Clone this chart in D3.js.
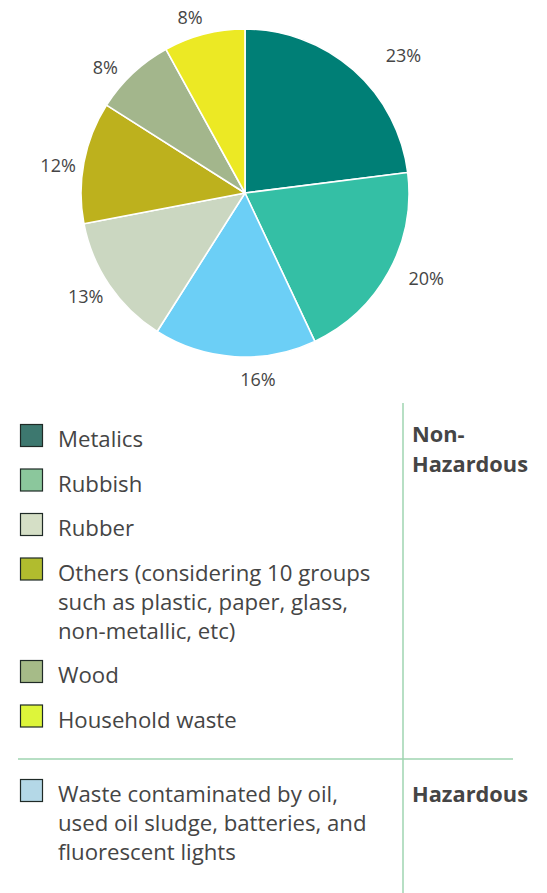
<!DOCTYPE html>
<html>
<head>
<meta charset="utf-8">
<script src="https://cdn.jsdelivr.net/npm/d3@7"></script>
<style>
  html, body { margin: 0; padding: 0; background: #ffffff; }
  svg { display: block; }
</style>
</head>
<body>
<script>
// Waste composition (percent of total), clockwise from 12 o'clock
const sliceNames = ["Metalics", "Rubbish", "Hazardous waste", "Rubber", "Others", "Wood", "Household waste"];
const sliceValues = [23, 20, 16, 13, 12, 8, 8];
const sliceColors = ["#007f76", "#34bfa5", "#6ccff6", "#cbd7c1", "#bdb11d", "#a3b68c", "#ece924"];

// Legend entries, grouped
const nonHazardousItems = ["Metalics", "Rubbish", "Rubber", "Others", "Wood", "Household waste"];
const hazardousItems = ["Hazardous waste"];
const legendText = {
  "Metalics": ["Metalics"],
  "Rubbish": ["Rubbish"],
  "Rubber": ["Rubber"],
  "Others": ["Others (considering 10 groups", "such as plastic, paper, glass,", "non-metallic, etc)"],
  "Wood": ["Wood"],
  "Household waste": ["Household waste"],
  "Hazardous waste": ["Waste contaminated by oil,", "used oil sludge, batteries, and", "fluorescent lights"]
};
const legendColors = {
  "Metalics": "#3d786f",
  "Rubbish": "#8bc79c",
  "Rubber": "#d5dfc6",
  "Others": "#b1bc2e",
  "Wood": "#a6bb88",
  "Household waste": "#ddf53a",
  "Hazardous waste": "#b4d8e7"
};
const groupTitles = { nonHazardous: ["Non-", "Hazardous"], hazardous: ["Hazardous"] };

// Small angular/radial shifts for the outside percentage labels
const labelAngleShift = [7.6, -3.8, -7.6, 1.2, -2.3, -4.8, -3];
const labelRadius = [210, 200, 186, 190, 189, 188, 184];

const W = 547, H = 893;
const textColor = "#454545";
const ruleColor = "#9fd4b0";
const fontFamily = "'Open Sans', 'Noto Sans', sans-serif";

const svg = d3.select("body").append("svg")
  .attr("width", W).attr("height", H)
  .attr("viewBox", `0 0 ${W} ${H}`);

svg.append("rect").attr("width", W).attr("height", H).attr("fill", "#ffffff");

// ---- Pie ----
const cx = 245, cy = 193, R = 164;
const pie = d3.pie().sort(null).value(d => d)(sliceValues);
const arc = d3.arc().innerRadius(0).outerRadius(R);

const gPie = svg.append("g").attr("transform", `translate(${cx},${cy})`);
gPie.selectAll("path.slice")
  .data(pie)
  .join("path")
  .attr("class", "slice")
  .attr("d", arc)
  .attr("fill", (d, i) => sliceColors[i])
  .attr("stroke", "#ffffff")
  .attr("stroke-width", 1.6)
  .attr("stroke-linejoin", "round");

gPie.selectAll("text.pct")
  .data(pie)
  .join("text")
  .attr("class", "pct")
  .attr("x", (d, i) => {
    const a = (d.startAngle + d.endAngle) / 2 + labelAngleShift[i] * Math.PI / 180;
    return Math.sin(a) * labelRadius[i];
  })
  .attr("y", (d, i) => {
    const a = (d.startAngle + d.endAngle) / 2 + labelAngleShift[i] * Math.PI / 180;
    return -Math.cos(a) * labelRadius[i];
  })
  .attr("text-anchor", "middle")
  .attr("dominant-baseline", "central")
  .attr("font-family", fontFamily)
  .attr("font-size", 18)
  .attr("fill", textColor)
  .text(d => d.data + "%");

// ---- Legend ----
const swX = 20, swSize = 23, txtX = 58;
const lineH = 29, itemGap = 44.5;
const legendFont = 22.2;

function drawItems(items, firstBaseline) {
  let y = firstBaseline;
  items.forEach(key => {
    const lines = legendText[key];
    svg.append("rect")
      .attr("x", swX + 0.5).attr("y", y - swSize + 0.5)
      .attr("width", swSize - 1).attr("height", swSize - 1)
      .attr("fill", legendColors[key])
      .attr("stroke", "#1f2a26")
      .attr("stroke-width", 1.2);
    const t = svg.append("text")
      .attr("x", txtX).attr("y", y)
      .attr("font-family", fontFamily)
      .attr("font-size", legendFont)
      .attr("fill", textColor);
    lines.forEach((ln, j) => {
      t.append("tspan").attr("x", txtX).attr("y", y + j * lineH).text(ln);
    });
    y += itemGap + (lines.length - 1) * lineH;
  });
}

drawItems(nonHazardousItems, 447);
drawItems(hazardousItems, 802);

// Group titles
function drawTitle(lines, baseline) {
  const t = svg.append("text")
    .attr("x", 412).attr("y", baseline)
    .attr("font-family", fontFamily)
    .attr("font-size", 21.8)
    .attr("font-weight", "bold")
    .attr("fill", textColor);
  lines.forEach((ln, j) => {
    t.append("tspan").attr("x", 412).attr("y", baseline + j * 30).text(ln);
  });
}
drawTitle(groupTitles.nonHazardous, 442);
drawTitle(groupTitles.hazardous, 802);

// Dividing rules
svg.append("line")
  .attr("x1", 403).attr("x2", 403).attr("y1", 403).attr("y2", H)
  .attr("stroke", ruleColor).attr("stroke-width", 1.5);
svg.append("line")
  .attr("x1", 18).attr("x2", 513).attr("y1", 759).attr("y2", 759)
  .attr("stroke", ruleColor).attr("stroke-width", 1.5);
</script>
</body>
</html>
